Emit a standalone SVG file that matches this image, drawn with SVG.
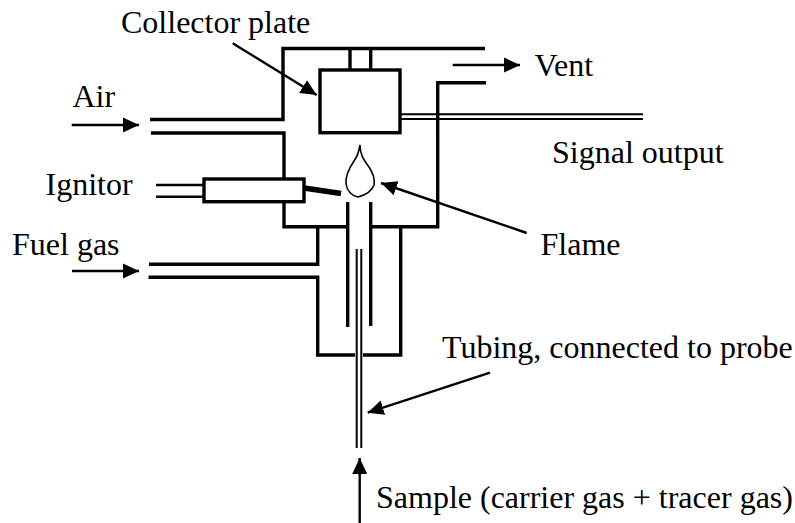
<svg xmlns="http://www.w3.org/2000/svg" width="795" height="523" viewBox="0 0 795 523">
<style>
text{font-family:"Liberation Serif","Times New Roman",serif;font-size:32px;fill:#000}
.w{fill:none;stroke:#000;stroke-width:3.4}
.t{fill:none;stroke:#000;stroke-width:2}
.a{fill:none;stroke:#000;stroke-width:2.4;marker-end:url(#ah)}
</style>
<defs>
<marker id="ah" markerUnits="userSpaceOnUse" markerWidth="17" markerHeight="16" refX="16" refY="8" orient="auto"><path d="M0 .5L16 8L0 15.500Z" fill="#000"/></marker>
</defs>
<rect width="795" height="523" fill="#fff"/>
<g id="connectors">
<path class="w" d="M485 48.500H283V119.500H150M151 133H284V226.700H347M372 226.700H437.700V82.700H486"/>
<path class="w" d="M149 264.300H317.700V226.700M148.500 277.300H317.700V355H355M363 355H400.700V226.700"/>
<path class="w" d="M347.700 202V327M370.700 202V326"/>
<path class="t" d="M356.700 249V448M361.300 249V448"/>
<path class="t" d="M400 114.300H643M400 119H643"/>
<path class="t" d="M156 185H204M156 196.700H204" style="stroke-width:2.400"/>
<path d="M304 188L341 193.500" fill="none" stroke="#000" stroke-width="5.500"/>
<path class="a" d="M71.700 125H139"/>
<path class="a" d="M72 271H139"/>
<path class="a" d="M452.700 65H520"/>
<path class="a" d="M232.700 43.300L316.700 95"/>
<path class="a" d="M526.700 233L381 183"/>
<path class="a" d="M490 372.700L367.700 412.700"/>
<path class="a" d="M359.700 523V458"/>
</g>
<g id="collector-plate"><rect class="w" x="320" y="70" width="80" height="62.700"/><path class="w" d="M350 48V70M370.700 48V70"/><text x="121" y="33">Collector plate</text></g>
<g id="air"><text x="72.500" y="107">Air</text></g>
<g id="vent"><text x="534.500" y="75.500">Vent</text></g>
<g id="signal-output"><text x="552" y="162.500">Signal output</text></g>
<g id="ignitor"><rect class="w" x="204" y="179" width="100" height="22.700" style="fill:#fff"/><text x="45.500" y="195">Ignitor</text></g>
<g id="flame"><path d="M360 145C360 155 364 160 369 167C373 173 375 180 374 185C372 191 365 195 358 197C352 196 347 191 346 184C345 175 350 167 354 161C357 157 359 151 360 145Z" fill="none" stroke="#000" stroke-width="1.600"/><text x="540.500" y="254.500">Flame</text></g>
<g id="fuel-gas"><text x="12" y="255">Fuel gas</text></g>
<g id="tubing"><text x="442" y="358">Tubing, connected to probe</text></g>
<g id="sample"><text x="376" y="507.500">Sample (carrier gas + tracer gas)</text></g>
</svg>
